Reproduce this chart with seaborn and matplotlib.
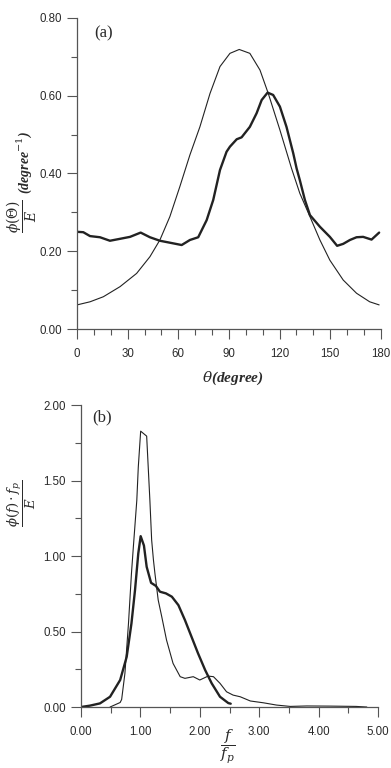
import numpy as np
import pandas as pd
import seaborn as sns
import matplotlib.pyplot as plt
from matplotlib.ticker import MultipleLocator, FormatStrFormatter

# panel (a): directional spreading, theta in degrees
theta_thin = [0, 7.7, 15.6, 25.5, 35.3, 43.2, 49.1, 55, 60.9, 66.9, 72.8, 78.8, 84.7,
              90.6, 96.1, 102.4, 108.4, 113.3, 120.2, 127.1, 132, 138, 143.9, 149.8,
              157.7, 165.6, 173.4, 179]
phi_thin = [0.062, 0.070, 0.083, 0.109, 0.143, 0.186, 0.229, 0.289, 0.366, 0.448, 0.520,
            0.606, 0.675, 0.709, 0.719, 0.709, 0.666, 0.606, 0.512, 0.413, 0.349, 0.289,
            0.229, 0.177, 0.126, 0.092, 0.070, 0.062]

theta_thick = [0, 3.7, 7.7, 13.6, 19.5, 25.5, 31.4, 37.7, 43.2, 49.1, 55, 62, 66.9, 71.8,
               76.8, 80.7, 84.7, 88.6, 90.6, 94.6, 97.5, 102.4, 106.4, 109.4, 112.9, 116.2,
               120.2, 124.1, 128.1, 130.1, 132, 135, 138, 143.9, 149.8, 154.1, 157.7,
               161.7, 165.6, 169.5, 174.5, 179]
phi_thick = [0.250, 0.249, 0.239, 0.236, 0.227, 0.232, 0.237, 0.248, 0.236, 0.227, 0.222,
             0.216, 0.229, 0.236, 0.280, 0.332, 0.409, 0.456, 0.469, 0.488, 0.493, 0.520,
             0.555, 0.589, 0.608, 0.602, 0.572, 0.520, 0.452, 0.413, 0.383, 0.332, 0.293,
             0.263, 0.237, 0.214, 0.219, 0.229, 0.236, 0.237, 0.230, 0.248]

# panel (b): normalised frequency spectrum
f_thin = [0.49, 0.66, 0.685, 0.74, 0.80, 0.85, 0.88, 0.94, 0.965, 1.005, 1.106, 1.16,
          1.19, 1.22, 1.245, 1.30, 1.36, 1.44, 1.55, 1.67, 1.75, 1.89, 2.0, 2.14, 2.23,
          2.34, 2.45, 2.56, 2.68, 2.85, 3.07, 3.29, 3.52, 3.8, 4.2, 4.63, 4.81]
s_thin = [0.0, 0.03, 0.05, 0.223, 0.554, 0.885, 1.05, 1.37, 1.59, 1.828, 1.795, 1.37,
          1.106, 0.974, 0.885, 0.709, 0.598, 0.444, 0.289, 0.201, 0.190, 0.201, 0.179,
          0.205, 0.201, 0.157, 0.101, 0.079, 0.068, 0.040, 0.028, 0.013, 0.004, 0.007,
          0.006, 0.004, 0.0]

f_thick = [0.0, 0.15, 0.32, 0.49, 0.66, 0.77, 0.85, 0.91, 0.965, 1.005, 1.06, 1.106,
           1.18, 1.26, 1.33, 1.43, 1.53, 1.64, 1.75, 1.86, 1.97, 2.09, 2.20, 2.34, 2.48,
           2.52]
s_thick = [0.0, 0.009, 0.024, 0.068, 0.179, 0.333, 0.554, 0.775, 1.018, 1.132, 1.07,
           0.929, 0.823, 0.803, 0.764, 0.753, 0.731, 0.675, 0.576, 0.466, 0.356, 0.245,
           0.157, 0.068, 0.026, 0.022]

sns.set_style("ticks")
plt.rcParams["font.family"] = ["Liberation Sans", "DejaVu Sans"]
plt.rcParams["mathtext.fontset"] = "dejavuserif"

ink = "#222222"
txt = "#2a2a2a"

fig = plt.figure(figsize=(3.91, 7.68), dpi=100)
ax1 = fig.add_axes([0.197, 0.5716, 0.777, 0.405])
ax2 = fig.add_axes([0.207, 0.0794, 0.760, 0.393])

df_a1 = pd.DataFrame({"x": theta_thin, "y": phi_thin})
df_a2 = pd.DataFrame({"x": theta_thick, "y": phi_thick})
sns.lineplot(data=df_a1, x="x", y="y", ax=ax1, color=ink, linewidth=0.8, sort=False)
sns.lineplot(data=df_a2, x="x", y="y", ax=ax1, color=ink, linewidth=1.7, sort=False)

df_b1 = pd.DataFrame({"x": f_thin, "y": s_thin})
df_b2 = pd.DataFrame({"x": f_thick, "y": s_thick})
sns.lineplot(data=df_b1, x="x", y="y", ax=ax2, color=ink, linewidth=0.8, sort=False)
sns.lineplot(data=df_b2, x="x", y="y", ax=ax2, color=ink, linewidth=1.7, sort=False)

ax1.set_xlim(0, 180)
ax1.set_ylim(0, 0.8)
ax1.xaxis.set_major_locator(MultipleLocator(30))
ax1.xaxis.set_minor_locator(MultipleLocator(10))
ax1.yaxis.set_major_locator(MultipleLocator(0.2))
ax1.yaxis.set_minor_locator(MultipleLocator(0.1))
ax1.yaxis.set_major_formatter(FormatStrFormatter("%.2f"))

ax2.set_xlim(0, 5)
ax2.set_ylim(0, 2)
ax2.xaxis.set_major_locator(MultipleLocator(1))
ax2.xaxis.set_minor_locator(MultipleLocator(0.5))
ax2.yaxis.set_major_locator(MultipleLocator(0.5))
ax2.yaxis.set_minor_locator(MultipleLocator(0.25))
ax2.xaxis.set_major_formatter(FormatStrFormatter("%.2f"))
ax2.yaxis.set_major_formatter(FormatStrFormatter("%.2f"))

for ax in (ax1, ax2):
    sns.despine(ax=ax)
    for s in ("left", "bottom"):
        ax.spines[s].set_color("#555555")
        ax.spines[s].set_linewidth(0.9)
    ax.tick_params(which="major", length=7, width=0.8, color="#555555", pad=4)
    ax.tick_params(which="minor", length=4, width=0.8, color="#555555")
    ax.tick_params(axis="x", pad=7)
    for lab in ax.get_xticklabels() + ax.get_yticklabels():
        lab.set_fontsize(8.3)
        lab.set_color(txt)
    ax.set_xlabel("")
    ax.set_ylabel("")

ax1.text(0.056, 0.95, "(a)", transform=ax1.transAxes, fontsize=12,
         family="Liberation Serif", color=txt, va="center")
ax2.text(0.037, 0.96, "(b)", transform=ax2.transAxes, fontsize=12,
         family="Liberation Serif", color=txt, va="center")

# y label of (a): fraction plus unit, both rotated
fig.text(22 / 391, 1 - 216 / 768, r"$\dfrac{\phi(\Theta)}{E}$", rotation=90,
         fontsize=10, color=txt, ha="center", va="center")
fig.text(24 / 391, 1 - 163 / 768, r"(degree$^{-1}$)", rotation=90,
         fontsize=10, color=txt, ha="center", va="center",
         family="Liberation Serif", style="italic", weight="bold")

# x label of (a)
fig.text(233 / 391, 1 - 378 / 768, r"$\theta$(degree)", fontsize=11, color=txt,
         ha="center", va="center", family="Liberation Serif", style="italic",
         weight="bold")

# labels of (b)
fig.text(22 / 391, 1 - 503 / 768, r"$\dfrac{\phi(f)\cdot f_p}{E}$", rotation=90,
         fontsize=9.5, color=txt, ha="center", va="center")
fig.text(228 / 391, 1 - 747 / 768, r"$\dfrac{f}{f_p}$", fontsize=11, color=txt,
         ha="center", va="center")

fig.savefig("out.png", dpi=100)
